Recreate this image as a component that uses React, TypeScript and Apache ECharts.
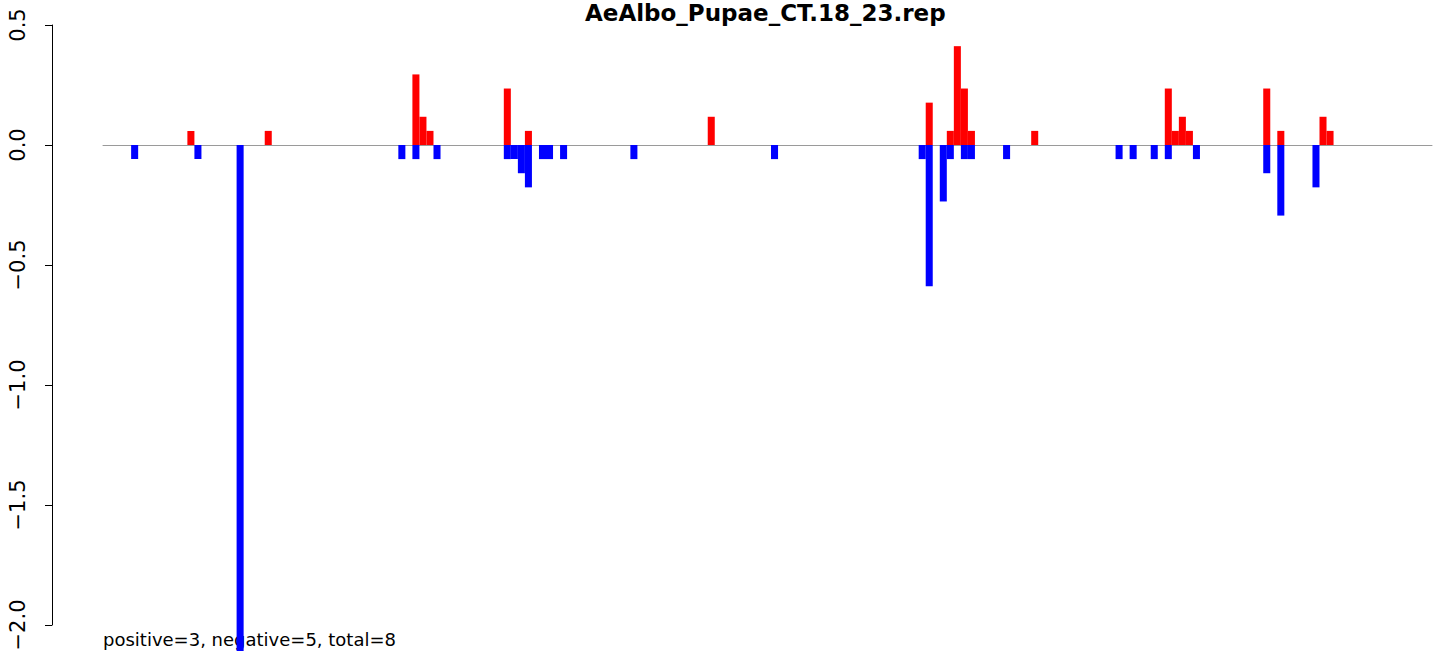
import React, { useEffect, useRef } from "react";
import * as echarts from "echarts";

const TITLE = "AeAlbo_Pupae_CT.18_23.rep";
const FOOTNOTE = "positive=3, negative=5, total=8";
const SLOT_COUNT = 189;
const Y_TICKS_MIN = -2.0;
const Y_TICKS_MAX = 0.5;
const Y_TICK_STEP = 0.5;

// positive (red) bars: slot index and value
const positiveSlots = [12, 23, 44, 45, 46, 57, 60, 86, 117, 120, 121, 122, 123, 132, 151, 152, 153, 154, 165, 167, 173, 174];
const positiveValues = [0.0588, 0.0588, 0.2941, 0.1176, 0.0588, 0.2353, 0.0588, 0.1176, 0.1765, 0.0588, 0.4118, 0.2353, 0.0588, 0.0588, 0.2353, 0.0588, 0.1176, 0.0588, 0.2353, 0.0588, 0.1176, 0.0588];

// negative (blue) bars: slot index and value
const negativeSlots = [4, 13, 19, 42, 44, 47, 57, 58, 59, 60, 62, 63, 65, 75, 95, 116, 117, 119, 120, 122, 123, 128, 144, 146, 149, 151, 155, 165, 167, 172];
const negativeValues = [-0.0588, -0.0588, -2.1176, -0.0588, -0.0588, -0.0588, -0.0588, -0.0588, -0.1176, -0.1765, -0.0588, -0.0588, -0.0588, -0.0588, -0.0588, -0.0588, -0.5882, -0.2353, -0.0588, -0.0588, -0.0588, -0.0588, -0.0588, -0.0588, -0.0588, -0.0588, -0.0588, -0.1176, -0.2941, -0.1765];

const FONT = "'DejaVu Sans', 'Liberation Sans', Arial, sans-serif";

function buildSeriesData(slots: number[], values: number[]): (number | null)[] {
  const arr: (number | null)[] = new Array(SLOT_COUNT).fill(null);
  slots.forEach((s, i) => {
    arr[s] = values[i];
  });
  return arr;
}

export default function App() {
  const ref = useRef<HTMLDivElement | null>(null);

  useEffect(() => {
    if (!ref.current) return;
    const chart = echarts.init(ref.current, null, { renderer: "svg" });
    const categories = Array.from({ length: SLOT_COUNT }, (_, i) => String(i));
    const fmt = (v: number) => v.toFixed(1).replace("-", "\u2212");

    chart.setOption({
      animation: false,
      backgroundColor: "#ffffff",
      title: {
        text: TITLE,
        left: 585,
        top: 1,
        padding: 0,
        textStyle: { fontFamily: FONT, fontSize: 23, fontWeight: "bold", color: "#000" },
      },
      graphic: [
        {
          type: "text",
          left: 103,
          top: 630,
          style: { text: FOOTNOTE, fontFamily: FONT, fontSize: 18, fill: "#000" },
        },
      ],
      grid: [
        { left: 52, top: 25, width: 1380, height: 600, containLabel: false },
        { left: 103, top: 25, width: 1329, height: 626, containLabel: false },
      ],
      xAxis: [
        { gridIndex: 0, type: "value", show: false },
        {
          gridIndex: 1,
          type: "category",
          data: categories,
          boundaryGap: true,
          axisLine: { show: true, onZero: true, lineStyle: { color: "#9a9a9a", width: 1 } },
          axisTick: { show: false },
          axisLabel: { show: false },
          splitLine: { show: false },
          z: 0,
        },
      ],
      yAxis: [
        {
          gridIndex: 0,
          type: "value",
          min: Y_TICKS_MIN,
          max: Y_TICKS_MAX,
          interval: Y_TICK_STEP,
          axisLine: { show: true, lineStyle: { color: "#000", width: 1 } },
          axisTick: { show: true, length: 7, inside: false, lineStyle: { color: "#000" } },
          axisLabel: {
            show: true,
            rotate: 90,
            margin: 24,
            fontFamily: FONT,
            fontSize: 21,
            color: "#000",
            formatter: fmt,
          },
          splitLine: { show: false },
        },
        {
          gridIndex: 1,
          type: "value",
          min: -2.108333,
          max: 0.5,
          show: false,
          splitLine: { show: false },
        },
      ],
      series: [
        {
          name: "positive",
          type: "bar",
          xAxisIndex: 1,
          yAxisIndex: 1,
          data: buildSeriesData(positiveSlots, positiveValues),
          barWidth: "100%",
          barGap: "-100%",
          itemStyle: { color: "#ff0000" },
          clip: true,
          z: 2,
        },
        {
          name: "negative",
          type: "bar",
          xAxisIndex: 1,
          yAxisIndex: 1,
          data: buildSeriesData(negativeSlots, negativeValues),
          barWidth: "100%",
          barGap: "-100%",
          itemStyle: { color: "#0000ff" },
          clip: true,
          z: 2,
        },
      ],
    });

    return () => chart.dispose();
  }, []);

  return (
    <div
      ref={ref}
      style={{ position: "fixed", left: 0, top: 0, width: 1444, height: 656, background: "#fff" }}
    />
  );
}
